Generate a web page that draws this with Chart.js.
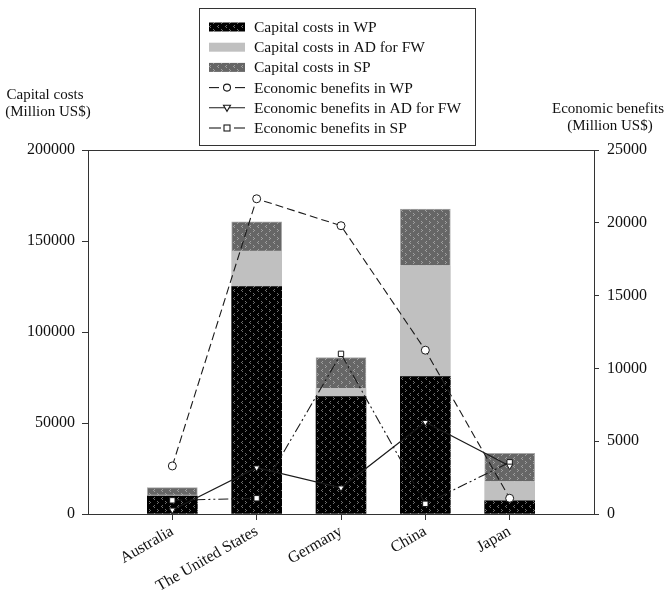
<!DOCTYPE html>
<html>
<head>
<meta charset="utf-8">
<script src="https://cdn.jsdelivr.net/npm/chart.js@4.4.0/dist/chart.umd.min.js"></script>
<style>
  html, body { margin: 0; padding: 0; background: #fff; }
  #wrap { width: 670px; height: 592px; }
</style>
</head>
<body>
<div id="wrap"><canvas id="chart" width="670" height="592"></canvas></div>
<script>
const categories = ["Australia", "The United States", "Germany", "China", "Japan"];

// capital costs, Million US$ (left axis)
const capitalWP = [9800, 125000, 64500, 75500, 7300];
const capitalAD = [600, 19500, 4500, 61000, 10500];
const capitalSP = [4100, 16000, 17000, 31000, 15500];

// economic benefits, Million US$ (right axis)
const benefitWP = [3300, 21650, 19800, 11250, 1080];
const benefitAD = [280, 3180, 1800, 6300, 3300];
const benefitSP = [940, 1080, 11000, 700, 3550];

const leftTicks = [0, 50000, 100000, 150000, 200000];
const rightTicks = [0, 5000, 10000, 15000, 20000, 25000];

const legendNames = [
  "Capital costs in WP",
  "Capital costs in AD for FW",
  "Capital costs in SP",
  "Economic benefits in WP",
  "Economic benefits in AD for FW",
  "Economic benefits in SP"
];

const SERIF = '"Liberation Serif", "Times New Roman", serif';

// pad one empty slot either side so the bars sit at 1..5 of a 0..6 axis
const pad = (arr) => [null, ...arr, null];
const labels = ["", ...categories, ""];

function makePattern(bg, fg) {
  const c = document.createElement("canvas");
  c.width = 8; c.height = 8;
  const g = c.getContext("2d");
  g.fillStyle = bg;
  g.fillRect(0, 0, 8, 8);
  g.fillStyle = fg;
  g.fillRect(2, 1, 1, 1); g.fillRect(1, 2, 1, 1); g.fillRect(2, 3, 1, 1);
  g.fillRect(5, 5, 1, 1); g.fillRect(6, 6, 1, 1); g.fillRect(5, 7, 1, 1);
  return g.createPattern(c, "repeat");
}

const fillWP = makePattern("#000", "#6e6e6e");
const fillAD = "#c0c0c0";
const fillSP = makePattern("#666", "#a0a0a0");

function bar(label, data, fill, border) {
  return {
    type: "bar", label, data: pad(data), backgroundColor: fill,
    borderColor: border || "rgba(0,0,0,0)", borderWidth: border ? 1 : 0,
    yAxisID: "y", stack: "cc", barThickness: 50, order: 1
  };
}

function line(label, data, dash, style, radius, rot) {
  return {
    type: "line", label, data: pad(data), yAxisID: "y2", order: 0,
    borderColor: "#1a1a1a", borderWidth: 1.1, borderDash: dash,
    pointStyle: style, pointRadius: radius, pointRotation: rot || 0,
    pointBackgroundColor: "#fff", pointBorderColor: "#1a1a1a", pointBorderWidth: 1,
    fill: false, tension: 0
  };
}

const DASH_WP = [8, 4];
const DASH_SP = [10, 3, 2, 3, 2, 3];

// legend box, axis titles and the top frame line
const extras = {
  id: "extras",
  afterDraw(chart) {
    const ctx = chart.ctx;
    const a = chart.chartArea;
    ctx.save();
    ctx.strokeStyle = "#333";
    ctx.lineWidth = 1;
    ctx.beginPath();
    ctx.moveTo(a.left, a.top + 0.5);
    ctx.lineTo(a.right, a.top + 0.5);
    ctx.stroke();

    ctx.fillStyle = "#111";
    ctx.font = "15px " + SERIF;
    ctx.textAlign = "center";
    ctx.textBaseline = "alphabetic";
    ctx.fillText("Capital costs", 45, 99);
    ctx.fillText("(Million US$)", 48, 116);
    ctx.fillText("Economic benefits", 608, 113);
    ctx.fillText("(Million US$)", 610, 130);

    // legend
    ctx.strokeStyle = "#333";
    ctx.strokeRect(199.5, 8.5, 276, 137);
    const x0 = 209, x1 = 245, xm = 227;
    const rowY = (i) => 27 + i * 20.2;
    const fills = [fillWP, fillAD, fillSP];
    fills.forEach((f, i) => {
      ctx.fillStyle = f;
      ctx.fillRect(x0, rowY(i) - 4.5, x1 - x0, 9);
    });
    ctx.strokeStyle = "#1a1a1a";
    ctx.lineWidth = 1.1;
    const seg = (y, a1, b1) => { ctx.beginPath(); ctx.moveTo(a1, y); ctx.lineTo(b1, y); ctx.stroke(); };
    let y = rowY(3);
    seg(y, x0, x0 + 10); seg(y, x1 - 10, x1);
    ctx.beginPath(); ctx.arc(xm, y, 3.5, 0, Math.PI * 2);
    ctx.fillStyle = "#fff"; ctx.fill(); ctx.stroke();
    y = rowY(4);
    seg(y, x0, x1);
    ctx.beginPath();
    ctx.moveTo(xm - 3.5, y - 2.5); ctx.lineTo(xm + 3.5, y - 2.5); ctx.lineTo(xm, y + 3.5); ctx.closePath();
    ctx.fillStyle = "#fff"; ctx.fill(); ctx.stroke();
    y = rowY(5);
    seg(y, x0, x0 + 12); seg(y, x1 - 11, x1);
    ctx.fillStyle = "#fff";
    ctx.fillRect(xm - 3, y - 3, 6, 6);
    ctx.strokeRect(xm - 3, y - 3, 6, 6);

    ctx.fillStyle = "#111";
    ctx.font = "15.5px " + SERIF;
    ctx.textAlign = "left";
    ctx.textBaseline = "middle";
    legendNames.forEach((t, i) => ctx.fillText(t, 254, rowY(i) + 1));
    ctx.restore();
  }
};

const tickFont = { family: SERIF, size: 16 };
const plain = (v) => String(v);

new Chart(document.getElementById("chart"), {
  data: {
    labels,
    datasets: [
      bar(legendNames[0], capitalWP, fillWP),
      bar(legendNames[1], capitalAD, fillAD),
      bar(legendNames[2], capitalSP, fillSP, "#a8a8a8"),
      line(legendNames[3], benefitWP, DASH_WP, "circle", 4),
      line(legendNames[4], benefitAD, [], "triangle", 3.6, 180),
      line(legendNames[5], benefitSP, DASH_SP, "rect", 3.8)
    ]
  },
  options: {
    responsive: false,
    animation: false,
    layout: { padding: { top: 150, left: 0, right: 0, bottom: 0 } },
    plugins: { legend: { display: false }, tooltip: { enabled: false } },
    scales: {
      x: {
        type: "category",
        offset: false,
        stacked: true,
        grid: {
          offset: false, drawOnChartArea: false, tickLength: 6,
          tickColor: (c) => (c.index === 0 || c.index === labels.length - 1) ? "rgba(0,0,0,0)" : "#333"
        },
        border: { color: "#333", width: 1 },
        ticks: { font: tickFont, color: "#111", maxRotation: 30, minRotation: 30, autoSkip: false, padding: 2 },
        afterFit: (s) => { s.height = 78; }
      },
      y: {
        position: "left",
        stacked: true,
        min: 0, max: 200000,
        afterBuildTicks: (s) => { s.ticks = leftTicks.map(v => ({ value: v })); },
        grid: { drawOnChartArea: false, tickLength: 6, tickColor: "#333" },
        border: { color: "#333", width: 1 },
        ticks: { font: tickFont, color: "#111", padding: 7, callback: plain },
        afterFit: (s) => { s.width = 88; }
      },
      y2: {
        position: "right",
        min: 0, max: 25000,
        afterBuildTicks: (s) => { s.ticks = rightTicks.map(v => ({ value: v })); },
        grid: { drawOnChartArea: false, tickLength: 5, tickColor: "#333" },
        border: { color: "#333", width: 1 },
        ticks: { font: tickFont, color: "#111", padding: 8, callback: plain },
        afterFit: (s) => { s.width = 76; }
      }
    }
  },
  plugins: [extras]
});
</script>
</body>
</html>
